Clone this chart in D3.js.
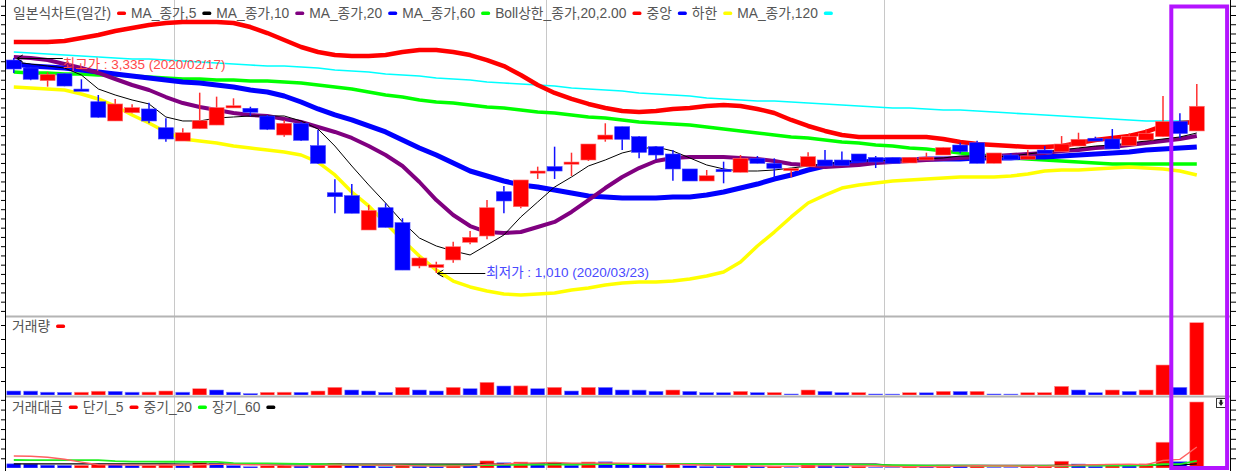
<!DOCTYPE html>
<html><head><meta charset="utf-8">
<script src="https://cdn.jsdelivr.net/npm/d3@7"></script>
<style>
html,body{margin:0;padding:0;background:#fff;}
svg{display:block;font-family:"Liberation Sans","Noto Sans CJK KR",sans-serif;}
</style></head><body>
<svg id="c" width="1236" height="471"></svg>
<script>
// ---------------- DATA ----------------
const dates = [
 "2020-02-17","2020-02-18","2020-02-19","2020-02-20","2020-02-21","2020-02-24","2020-02-25","2020-02-26","2020-02-27","2020-02-28",
 "2020-03-02","2020-03-03","2020-03-04","2020-03-05","2020-03-06","2020-03-09","2020-03-10","2020-03-11","2020-03-12","2020-03-13",
 "2020-03-16","2020-03-17","2020-03-18","2020-03-19","2020-03-20","2020-03-23","2020-03-24","2020-03-25","2020-03-26","2020-03-27",
 "2020-03-30","2020-03-31","2020-04-01","2020-04-02","2020-04-03","2020-04-06","2020-04-07","2020-04-08","2020-04-09","2020-04-10",
 "2020-04-13","2020-04-14","2020-04-16","2020-04-17","2020-04-20","2020-04-21","2020-04-22","2020-04-23","2020-04-24","2020-04-27",
 "2020-04-28","2020-04-29","2020-05-04","2020-05-06","2020-05-07","2020-05-08","2020-05-11","2020-05-12","2020-05-13","2020-05-14",
 "2020-05-15","2020-05-18","2020-05-19","2020-05-20","2020-05-21","2020-05-22","2020-05-25","2020-05-26","2020-05-27","2020-05-28","2020-05-29"];

const open = [3313,3227,3090,3165,2999,2862,2654,2743,2784,2581, 2437,2570,2610,2798,2791,2708,2502,2629,2387,1878, 1846,1475,1716,1554,1086,1070,1151,1342,1410,1889, 1727,2097,2160,2194,2232,2456,2592,2484,2376,2297, 2135,2005,2131,2099,2250,2196,2116,2160,2232,2232, 2297,2259,2257,2200,2232,2286,2394,2419,2196,2286, 2240,2340,2322,2383,2467,2459,2387,2448,2484,2648,2546];
const high = [3335,3240,3180,3173,3105,2935,2892,2834,2852,2683, 2575,2960,2917,2899,2808,2719,2665,2643,2556,2023, 1972,1745,1764,1602,1186,1132,1348,1464,1799,1951, 2016,2160,2376,2311,2405,2629,2592,2491,2383,2340, 2135,2124,2214,2286,2275,2250,2142,2315,2340,2324, 2297,2275,2257,2261,2311,2367,2419,2441,2308,2304, 2340,2383,2491,2527,2484,2567,2521,2564,2924,2737,3054];
const low = [3173,3095,3025,3030,2989,2690,2654,2737,2629,2430, 2437,2570,2610,2798,2708,2556,2484,2437,2189,1656, 1656,1475,1504,1042,1061,1010,1121,1320,1374,1656, 1710,2027,2027,2059,2221,2430,2340,2250,2232,2008, 2005,2005,1980,2099,2196,2034,2045,2156,2167,2172, 2210,2145,2196,2200,2232,2286,2304,2196,2196,2240, 2240,2304,2322,2383,2437,2351,2387,2448,2484,2467,2546];
const close = [3216,3105,3159,3032,2989,2694,2838,2798,2654,2459, 2527,2657,2798,2819,2748,2564,2629,2445,2196,1835, 1656,1686,1504,1042,1172,1100,1294,1396,1716,1789, 2016,2113,2113,2210,2405,2502,2456,2315,2286,2135, 2005,2062,2105,2250,2196,2142,2142,2268,2167,2172, 2210,2210,2196,2261,2264,2367,2322,2196,2308,2240, 2275,2304,2405,2456,2437,2351,2484,2521,2648,2519,2813];

const ma5 = [3292,3270,3248,3227,3151,3000,2935,2881,2838,2697, 2654,2654,2686,2697,2708,2708,2708,2654,2567,2383, 2167,1962,1767,1562,1388,1302,1248,1205,1313,1421, 1616,1778,1940,2048,2167,2232,2308,2351,2373,2329, 2254,2178,2135,2113,2113,2124,2145,2167,2189,2210, 2221,2221,2232,2232,2243,2254,2275,2275,2264,2275, 2297,2319,2340,2362,2383,2394,2416,2437,2459,2481,2524];
const ma10 = [3346,3335,3313,3270,3227,3173,3108,3043,2989,2913, 2848,2805,2773,2740,2719,2708,2675,2643,2589,2535, 2470,2383,2286,2167,1994,1799,1637,1518,1453,1442, 1453,1507,1562,1670,1799,1929,2048,2145,2221,2254, 2264,2264,2264,2254,2243,2221,2189,2178,2156,2167, 2178,2200,2210,2221,2232,2243,2254,2264,2275,2286, 2297,2308,2329,2340,2362,2373,2394,2416,2437,2459,2492];
const ma20 = [3270,3248,3238,3227,3205,3184,3162,3140,3119,3097, 3075,3065,3043,3021,2989,2967,2924,2859,2784,2719, 2665,2600,2535,2448,2362,2286,2200,2113,2059,2005, 1962,1940,1908,1875,1843,1832,1821,1821,1821,1832, 1832,1853,1886,1929,1972,2026,2070,2124,2167,2200, 2210,2221,2232,2232,2243,2243,2243,2254,2254,2254, 2264,2264,2275,2286,2297,2308,2319,2340,2351,2362,2373];
const ma60 = [3184,3173,3173,3162,3162,3151,3151,3140,3130,3119, 3108,3108,3097,3097,3086,3086,3075,3065,3043,3021, 3000,2967,2935,2913,2881,2859,2848,2827,2805,2794, 2773,2751,2740,2719,2697,2686,2665,2643,2632,2621, 2610,2589,2567,2546,2524,2502,2481,2470,2448,2427, 2416,2394,2383,2362,2351,2329,2308,2286,2275,2254, 2243,2232,2221,2210,2200,2189,2189,2189,2189,2189,2189];
const ma120 = [3400,3389,3378,3367,3357,3346,3335,3324,3324,3313, 3303,3292,3281,3270,3259,3248,3248,3238,3227,3205, 3194,3184,3162,3151,3140,3119,3108,3097,3075,3065, 3054,3043,3032,3011,3000,2989,2978,2957,2946,2935, 2924,2902,2892,2881,2870,2870,2859,2848,2838,2827, 2816,2805,2794,2794,2784,2773,2773,2762,2751,2740, 2729,2719,2708,2697,2686,2675,2665,2654,2654,2654,2654];
const bollUpper = [3508,3508,3508,3519,3551,3584,3627,3659,3692,3714, 3724,3724,3724,3714,3670,3605,3530,3454,3400,3367, 3357,3357,3367,3400,3422,3422,3400,3367,3313,3248, 3151,3043,2957,2892,2838,2794,2762,2751,2762,2784, 2794,2816,2827,2816,2784,2740,2665,2600,2546,2502, 2481,2481,2481,2481,2481,2459,2427,2405,2394,2383, 2373,2373,2383,2416,2448,2470,2492,2535,2600,2632,2643];
const bollLower = [3021,3011,3000,2989,2946,2892,2816,2719,2632,2535, 2459,2437,2416,2383,2362,2340,2319,2286,2210,2070, 1886,1735,1551,1367,1194,1042,923,859,815,783, 772,783,794,826,848,880,902,913,913,923, 945,978,1021,1129,1302,1453,1616,1767,1853,1929, 1962,1983,2005,2016,2026,2037,2048,2048,2048,2059, 2081,2113,2124,2124,2135,2145,2156,2145,2135,2113,2070];

const volume = [400,390,280,270,280,380,370,280,290,400, 280,630,500,280,140,270,280,270,400,770, 500,400,270,770,500,400,770,630,1270,900, 910,630,770,400,770,760,500,490,370,500, 370,240,230,370,240,250,100,500,370,240, 250,100,90,230,220,370,360,370,100,90, 230,240,870,500,230,500,370,500,3000,770,7230];
const tradeValue = [1286,1211,885,819,837,1024,1050,783,770,984, 708,1674,1399,789,385,692,736,660,878,1413, 828,674,406,802,586,440,996,879,2179,1610, 1835,1331,1627,884,1852,1902,1228,1134,846,1068, 742,495,484,833,527,536,214,1134,802,521, 553,221,198,520,498,876,836,813,231,202, 523,553,2092,1228,561,1176,919,1261,7944,1940,20338];
const tvShort5 = [3700,3600,3300,2700,1800,1000,960,900,890,920, 860,980,1110,1110,990,950,740,650,730,880, 880,890,840,820,660,580,650,740,1180,1220, 1500,1570,1720,1500,1510,1520,1500,1410,1390,1200, 1000,860,730,720,620,580,520,650,650,650, 650,620,460,400,400,460,590,710,650,600, 520,460,720,920,990,1120,1190,1030,2320,2650,6480];
const tvMid20 = [2460,2440,2430,2420,2410,2400,2100,1950,1940,1930, 1920,1910,1900,1500,1450,1400,1350,1300,1200,1100, 900,860,830,830,820,800,810,820,890,940, 1000,1030,1070,1080,1130,1180,1200,1220,1230,1230, 1230,1220,1220,1220,1220,1210,1180,1170,1130,1100, 1000,940,870,820,760,740,720,700,680,660, 650,640,700,730,730,750,760,780,1150,1220,2200];
const tvLong60 = [1250,1250,1250,1250,1250,1250,1250,1250,1250,1250, 1240,1240,1240,1240,1240,1230,1230,1230,1230,1230, 1220,1220,1220,1220,1220,1210,1210,1210,1210,1210, 1200,1200,1200,1200,1200,1200,1200,1200,1200,1200, 1200,1200,1200,1200,1200,1200,1200,1200,1200,1200, 1200,1200,800,800,800,800,790,790,790,790, 790,790,800,810,810,820,830,840,900,930,1250];

const priceLegend = ["일본식차트(일간)","MA_종가,5","MA_종가,10","MA_종가,20","MA_종가,60","Boll상한_종가,20,2.00","중앙","하한","MA_종가,120"];
const volLegend = ["거래량"];
const tvLegend = ["거래대금","단기_5","중기_20","장기_60"];
const highLabel = "최고가 : 3,335 (2020/02/17)";
const lowLabel = "최저가 : 1,010 (2020/03/23)";

// ---------------- STYLE / LAYOUT ----------------
const RED="#ff0000", BLUE="#0000ff";
const priceLegendColors = [RED,"#000000","#800080",BLUE,"#00ff00",RED,BLUE,"#ffff00","#00ffff"];
const tvLegendColors = [RED,RED,"#00ff00","#000000"];
const AX_L=6, AX_R=1230;
const P_TOP=0, P_BOT=315, V_TOP=318, V_BOT=395, T_TOP=398, T_BOT=468;
const FS=13.5, LFS=13.8;

const svg = d3.select("#c");
const defs = svg.append("defs");
function clip(id,x0,y0,x1,y1){defs.append("clipPath").attr("id",id).append("rect").attr("x",x0).attr("y",y0).attr("width",x1-x0).attr("height",y1-y0);}
clip("cp",AX_L,P_TOP,AX_R,P_BOT);
clip("cv",AX_L,V_TOP,AX_R,V_BOT);
clip("ct",AX_L,T_TOP,AX_R,T_BOT);

const x = d3.scalePoint().domain(dates).range([13.8,1196.8]);
const y = d3.scaleLinear().domain([d3.min(low),d3.max(high)]).range([273,58]);
const yv = d3.scaleLinear().domain([0,d3.max(volume)]).range([V_BOT,322.7]);
const yt = d3.scaleLinear().domain([0,d3.max(tradeValue)]).range([T_BOT,402]);

// gridlines at month boundaries
const grid = svg.append("g");
for(let i=1;i<dates.length;i++){
  if(dates[i].slice(5,7)!==dates[i-1].slice(5,7)){
    const gx=Math.round((x(dates[i-1])+x(dates[i]))/2)+0.5;
    grid.append("line").attr("x1",gx).attr("x2",gx).attr("y1",0).attr("y2",T_BOT+2)
      .attr("stroke","#c8c8c8").attr("stroke-width",1);
  }
}

// price panel
const pg = svg.append("g").attr("clip-path","url(#cp)");
const lineP = arr => d3.line().x((d,i)=>x(dates[i])).y(d=>y(d))(arr);
const lines = [
  [ma120,"#00ffff",1.6],
  [ma60,"#00ff00",3.5],
  [bollLower,"#ffff00",3.5],
  [bollUpper,"#ff0000",4.5],
  [ma20,"#0000ff",5],
  [ma10,"#800080",4],
  [ma5,"#000000",1]
];
lines.forEach(([arr,c,w])=>{
  pg.append("path").attr("d",lineP(arr)).attr("fill","none").attr("stroke",c).attr("stroke-width",w).attr("stroke-linejoin","round");
});

const BW=15;
const cg = pg.append("g");
dates.forEach((d,i)=>{
  const up = close[i]>=open[i];
  const col = up?RED:BLUE;
  const cx = x(d);
  cg.append("line").attr("x1",cx).attr("x2",cx).attr("y1",y(high[i])).attr("y2",y(low[i]))
    .attr("stroke",up?"#ff3030":"#1010ff").attr("stroke-width",1.5);
  const t=y(Math.max(open[i],close[i])), b=y(Math.min(open[i],close[i]));
  cg.append("rect").attr("x",cx-BW/2).attr("y",t).attr("width",BW).attr("height",Math.max(2.2,b-t))
    .attr("fill",col).attr("stroke",up?"#ff7070":"#4040ff").attr("stroke-width",0.6);
});

// annotations: highest / lowest
const iH = high.indexOf(d3.max(high)), iL = low.indexOf(d3.min(low));
function arrow(g,tx,ty,len){
  g.append("line").attr("x1",tx).attr("x2",tx+len).attr("y1",ty).attr("y2",ty).attr("stroke","#000").attr("stroke-width",1);
  g.append("path").attr("d",`M${tx+6},${ty-3.5}L${tx},${ty}L${tx+6},${ty+3.5}`).attr("fill","none").attr("stroke","#000").attr("stroke-width",1);
}
const ag = pg.append("g");
const hx = x(dates[iH])+3, hy=Math.round(y(high[iH]))+0.5;
arrow(ag,hx,hy,46);
ag.append("text").attr("x",hx+46).attr("y",hy+10).attr("fill","#ff4848").attr("font-size",FS).text(highLabel);
const lx = x(dates[iL])+1, ly=Math.round(y(low[iL]))+0.5;
arrow(ag,lx,ly,48);
ag.append("text").attr("x",lx+49).attr("y",ly+3).attr("fill","#4a4aff").attr("font-size",FS).text(lowLabel);

// volume panel
const vg = svg.append("g").attr("clip-path","url(#cv)");
dates.forEach((d,i)=>{
  const up = i>0 && volume[i]>=volume[i-1];
  vg.append("rect").attr("x",x(d)-7).attr("y",yv(volume[i])).attr("width",14).attr("height",V_BOT-yv(volume[i]))
    .attr("fill",up?RED:BLUE).attr("stroke",up?"#ff9090":"#8080ff").attr("stroke-width",0.6);
});

// trade value panel
const tg = svg.append("g").attr("clip-path","url(#ct)");
dates.forEach((d,i)=>{
  const up = i>0 && volume[i]>=volume[i-1];
  tg.append("rect").attr("x",x(d)-7).attr("y",yt(tradeValue[i])).attr("width",14).attr("height",T_BOT-yt(tradeValue[i]))
    .attr("fill",up?RED:BLUE).attr("stroke",up?"#ff9090":"#8080ff").attr("stroke-width",0.6);
});
const lineT = arr => d3.line().x((d,i)=>x(dates[i])).y(d=>yt(d))(arr);
[[tvLong60,"#000000",1.2],[tvMid20,"#22ee22",1.8],[tvShort5,"#ff6060",1.4]].forEach(([arr,c,w])=>{
  tg.append("path").attr("d",lineT(arr)).attr("fill","none").attr("stroke",c).attr("stroke-width",w);
});

// separators and axis lines
[[P_BOT+1.5],[V_BOT+1.5]].forEach(([yy])=>{
  svg.append("line").attr("x1",AX_L).attr("x2",AX_R).attr("y1",yy).attr("y2",yy).attr("stroke","#b4b4b4").attr("stroke-width",2);
});
svg.append("line").attr("x1",AX_L-0.5).attr("x2",AX_L-0.5).attr("y1",0).attr("y2",471).attr("stroke","#000").attr("stroke-width",1);
svg.append("line").attr("x1",AX_R+0.5).attr("x2",AX_R+0.5).attr("y1",0).attr("y2",471).attr("stroke","#000").attr("stroke-width",1);

function ticks(scale,vals,y0,y1){
  const inr = vals.filter(v=>{const p=scale(v);return p>y0+1&&p<y1-1;});
  const gl = svg.append("g").attr("transform",`translate(${AX_L},0)`).call(d3.axisLeft(scale).tickValues(inr).tickSize(5).tickFormat(""));
  const gr = svg.append("g").attr("transform",`translate(${AX_R+1},0)`).call(d3.axisRight(scale).tickValues(inr).tickSize(5).tickFormat(""));
  [gl,gr].forEach(g=>{g.select(".domain").remove();g.selectAll("line").attr("stroke","#000");});
}
ticks(y,d3.range(500,4100,100),P_TOP,P_BOT);
ticks(yv,d3.range(1400,8000,1400),V_TOP,V_BOT);
ticks(yt,d3.range(3000,24000,3000),T_TOP,T_BOT);

// legends
function legend(labels,colors,x0,yb){
  let cx=x0;
  labels.forEach((l,i)=>{
    const t=svg.append("text").attr("x",cx).attr("y",yb).attr("font-size",LFS).attr("fill","#555").text(l);
    const w=t.node().getComputedTextLength();
    svg.append("rect").attr("x",cx+w+6).attr("y",yb-6.5).attr("width",9).attr("height",3.6).attr("rx",1.6)
      .attr("fill",colors[i]);
    cx=cx+w+6+9+5;
  });
}
legend(priceLegend,priceLegendColors,13,18);
legend(volLegend,[RED],12,331);
legend(tvLegend,tvLegendColors,12,412);

// small panel button
svg.append("rect").attr("x",1216.5).attr("y",398.5).attr("width",9).attr("height",9).attr("fill","#fff").attr("stroke","#333");
svg.append("path").attr("d","M1218.5,402.5L1223.5,402.5L1221,406Z M1219.8,399.8L1222.2,399.8L1222.2,402.6L1219.8,402.6Z").attr("fill","#222");

// highlight box
svg.append("rect").attr("x",1171.3).attr("y",6.5).attr("width",55.8).attr("height",461.5)
  .attr("fill","none").attr("stroke","#b414ff").attr("stroke-width",4);
</script>
</body></html>
